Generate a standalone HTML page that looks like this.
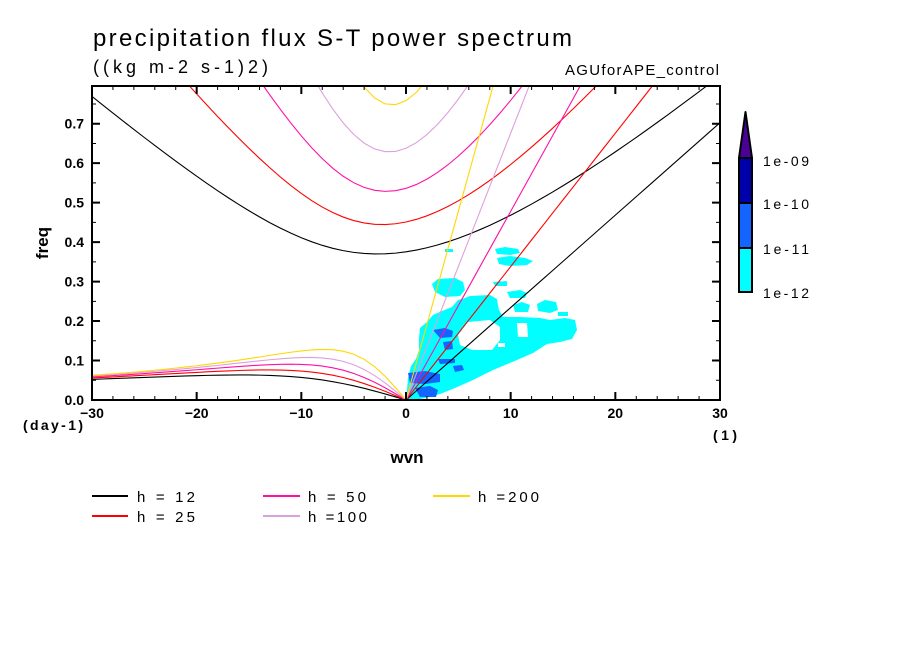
<!DOCTYPE html>
<html><head><meta charset="utf-8">
<style>
html,body{margin:0;padding:0;background:#fff;}
svg{display:block;}
text{font-family:"Liberation Sans",sans-serif;fill:#000;}
</style></head>
<body>
<svg id="root" width="904" height="654" viewBox="0 0 904 654" xmlns="http://www.w3.org/2000/svg">
<rect width="904" height="654" fill="#fff"/>
<defs><clipPath id="pc"><rect x="92" y="86" width="628" height="314"/></clipPath></defs>

<g clip-path="url(#pc)">
  <!-- cyan shading -->
  <g fill="#00ffff">
    <polygon points="406,400 407,390 408,378 411,366 416,359 419,350 419,338 420,328 427,322 433,315 442,311 452,307 458,300 470,297 490,296 497,300 499,310 503,317 520,317 540,318 550,320 565,318 575,320 577,330 572,339 560,342 547,344 533,353 517,360 493,370 473,380 455,388 440,394 425,398 415,400"/>
    <polygon points="495,249 505,247 518,249 520,253 510,255 497,254"/>
    <polygon points="497,258 510,256 525,258 533,261 527,265 510,266 499,264"/>
    <polygon points="445,249 453,249 453,252 445,252"/>
    <polygon points="432,284 438,279 455,278 463,282 465,290 460,296 445,297 435,292"/>
    <polygon points="493,282 507,281 507,286 495,286"/>
    <polygon points="507,292 520,290 527,293 525,298 510,298"/>
    <polygon points="460,300 470,296 490,295 497,299 498,310 490,315 470,316 455,312"/>
    <polygon points="537,304 545,300 556,302 558,310 550,313 538,311"/>
    <polygon points="558,312 568,312 568,316 558,316"/>
    <polygon points="513,305 522,302 530,305 528,312 515,312"/>
  </g>
  <!-- holes -->
  <g fill="#fff">
    <polygon points="468,322 490,320 500,327 500,340 492,350 472,350 460,345 458,335"/>
    <polygon points="517,323 527,323 528,337 518,337"/>
    <polygon points="498,343 505,343 505,347 498,347"/>
  </g>
  <!-- medium blue -->
  <g fill="#1464ff">
    <polygon points="408,373 425,371 440,374 440,382 425,384 410,383"/>
    <polygon points="415,388 430,386 438,390 436,397 420,397"/>
    <polygon points="433,330 445,328 453,331 452,337 440,338"/>
    <polygon points="443,342 452,341 453,349 445,350"/>
    <polygon points="453,366 462,365 464,370 455,372"/>
    <polygon points="438,359 455,359 455,363 440,364"/>
  </g>
  <g id="curves" fill="none" stroke-width="1.1"></g>
</g>

<!-- frame -->
<rect x="92" y="86" width="628" height="314" fill="none" stroke="#000" stroke-width="2"/>
<!-- ticks: bottom -->
<line x1="92" y1="398" x2="722" y2="398" stroke="#000" stroke-width="4" stroke-dasharray="1 19.9333" stroke-dashoffset="0.5"/>
<line x1="92" y1="396" x2="722" y2="396" stroke="#000" stroke-width="8" stroke-dasharray="2 102.6667" stroke-dashoffset="1"/>
<!-- top -->
<line x1="92" y1="88" x2="722" y2="88" stroke="#000" stroke-width="4" stroke-dasharray="1 19.9333" stroke-dashoffset="0.5"/>
<line x1="92" y1="90" x2="722" y2="90" stroke="#000" stroke-width="8" stroke-dasharray="2 102.6667" stroke-dashoffset="1"/>
<!-- left -->
<line x1="94" y1="400" x2="94" y2="86" stroke="#000" stroke-width="4" stroke-dasharray="1 18.735" stroke-dashoffset="0.5"/>
<line x1="96" y1="400" x2="96" y2="86" stroke="#000" stroke-width="8" stroke-dasharray="2 37.47" stroke-dashoffset="1"/>
<!-- right -->
<line x1="718" y1="400" x2="718" y2="86" stroke="#000" stroke-width="4" stroke-dasharray="1 18.735" stroke-dashoffset="0.5"/>
<line x1="716" y1="400" x2="716" y2="86" stroke="#000" stroke-width="8" stroke-dasharray="2 37.47" stroke-dashoffset="1"/>

<!-- titles -->
<text x="93" y="46" font-size="24" textLength="479" lengthAdjust="spacing">precipitation flux S-T power spectrum</text>
<text x="93" y="73" font-size="18" textLength="175" lengthAdjust="spacing">((kg m-2 s-1)2)</text>
<text x="565" y="75" font-size="15" textLength="154" lengthAdjust="spacing">AGUforAPE_control</text>

<!-- y tick labels -->
<g font-size="14" font-weight="bold" text-anchor="end">
  <text x="84" y="405">0.0</text>
  <text x="84" y="365.5">0.1</text>
  <text x="84" y="326">0.2</text>
  <text x="84" y="286.6">0.3</text>
  <text x="84" y="247.1">0.4</text>
  <text x="84" y="207.7">0.5</text>
  <text x="84" y="168.2">0.6</text>
  <text x="84" y="128.7">0.7</text>
</g>
<!-- x tick labels -->
<g font-size="14" font-weight="bold" text-anchor="middle">
  <text x="92" y="418">−30</text>
  <text x="196.7" y="418">−20</text>
  <text x="301.3" y="418">−10</text>
  <text x="406" y="418">0</text>
  <text x="510.7" y="418">10</text>
  <text x="615.3" y="418">20</text>
  <text x="720" y="418">30</text>
</g>
<text x="23" y="430" font-size="14" font-weight="bold" textLength="60" lengthAdjust="spacing">(day-1)</text>
<text x="713" y="440" font-size="14" font-weight="bold" textLength="24" lengthAdjust="spacing">(1)</text>
<text transform="translate(48,243) rotate(-90)" text-anchor="middle" font-size="17" font-weight="bold">freq</text>
<text x="407" y="463" font-size="17" font-weight="bold" text-anchor="middle">wvn</text>

<!-- legend -->
<g stroke-width="2">
  <line x1="92" y1="496" x2="128" y2="496" stroke="#000"/>
  <line x1="92" y1="516" x2="128" y2="516" stroke="#ff0000"/>
  <line x1="263" y1="496" x2="300" y2="496" stroke="#ff10a8"/>
  <line x1="263" y1="516" x2="300" y2="516" stroke="#dda0dd"/>
  <line x1="433" y1="496" x2="470" y2="496" stroke="#ffd700"/>
</g>
<g font-size="15">
  <text x="137" y="502" textLength="58" lengthAdjust="spacing">h = 12</text>
  <text x="137" y="522" textLength="58" lengthAdjust="spacing">h = 25</text>
  <text x="308" y="502" textLength="58" lengthAdjust="spacing">h = 50</text>
  <text x="308" y="522" textLength="59" lengthAdjust="spacing">h =100</text>
  <text x="478" y="502" textLength="61" lengthAdjust="spacing">h =200</text>
</g>

<!-- colorbar -->
<polygon points="745.5,112 739,158 752,158" fill="#4b0096" stroke="#000" stroke-width="2" stroke-linejoin="round"/>
<rect x="739" y="158" width="13" height="45" fill="#0000aa"/>
<rect x="739" y="203" width="13" height="45" fill="#1464ff"/>
<rect x="739" y="248" width="13" height="44" fill="#00ffff"/>
<line x1="739" y1="203" x2="752" y2="203" stroke="#000" stroke-width="2"/>
<line x1="739" y1="248" x2="752" y2="248" stroke="#000" stroke-width="2"/>
<rect x="739" y="158" width="13" height="134" fill="none" stroke="#000" stroke-width="2"/>
<g font-size="14">
  <text x="763" y="166" textLength="46" lengthAdjust="spacing">1e-09</text>
  <text x="763" y="209" textLength="46" lengthAdjust="spacing">1e-10</text>
  <text x="763" y="254" textLength="46" lengthAdjust="spacing">1e-11</text>
  <text x="763" y="298" textLength="46" lengthAdjust="spacing">1e-12</text>
</g>
</svg>
<script>
(function(){
  var g=9.81, Om=7.292e-5, R=6.371e6, beta=2*Om/R;
  var hs=[12,25,50,100,200], cols=['#000000','#ff0000','#ff10a8','#dda0dd','#ffd700'];
  function X(s){return 92+(s+30)*628/60;}
  function Y(f){return 400-f*394.7;}
  var out='';
  for(var i=0;i<hs.length;i++){
    var c=Math.sqrt(g*hs[i]), L=Math.sqrt(c/beta), T=1/Math.sqrt(c*beta);
    var fac=86400/(2*Math.PI)/T;
    var ig=[], ro=[], ke=[];
    for(var s=-30;s<=30;s++){
      var k=s*L/R, n, f, d;
      var w=Math.sqrt(k*k+3)+1;
      for(n=0;n<60;n++){f=w*w*w-(k*k+3)*w-k; d=3*w*w-(k*k+3); w-=f/d;}
      ig.push(X(s).toFixed(2)+','+Y(w*fac).toFixed(2));
      if(s<=0){
        var r=-k/(k*k+3);
        for(n=0;n<60;n++){f=r*r*r-(k*k+3)*r-k; d=3*r*r-(k*k+3); r-=f/d;}
        ro.push(X(s).toFixed(2)+','+Y(r*fac).toFixed(2));
      }
      if(s>=0){ ke.push(X(s).toFixed(2)+','+Y(k*fac).toFixed(2)); }
    }
    var st=' stroke="'+cols[i]+'"';
    out+='<polyline points="'+ig.join(' ')+'"'+st+'/>';
    out+='<polyline points="'+ro.join(' ')+'"'+st+'/>';
    out+='<polyline points="'+ke.join(' ')+'"'+st+'/>';
  }
  var gEl=document.getElementById('curves');
  var ns='http://www.w3.org/2000/svg';
  var tmp=new DOMParser().parseFromString('<svg xmlns="'+ns+'">'+out+'</svg>','image/svg+xml');
  var kids=tmp.documentElement.childNodes;
  for(var j=0;j<kids.length;j++){ gEl.appendChild(document.importNode(kids[j],true)); }
})();
</script>
</body></html>
